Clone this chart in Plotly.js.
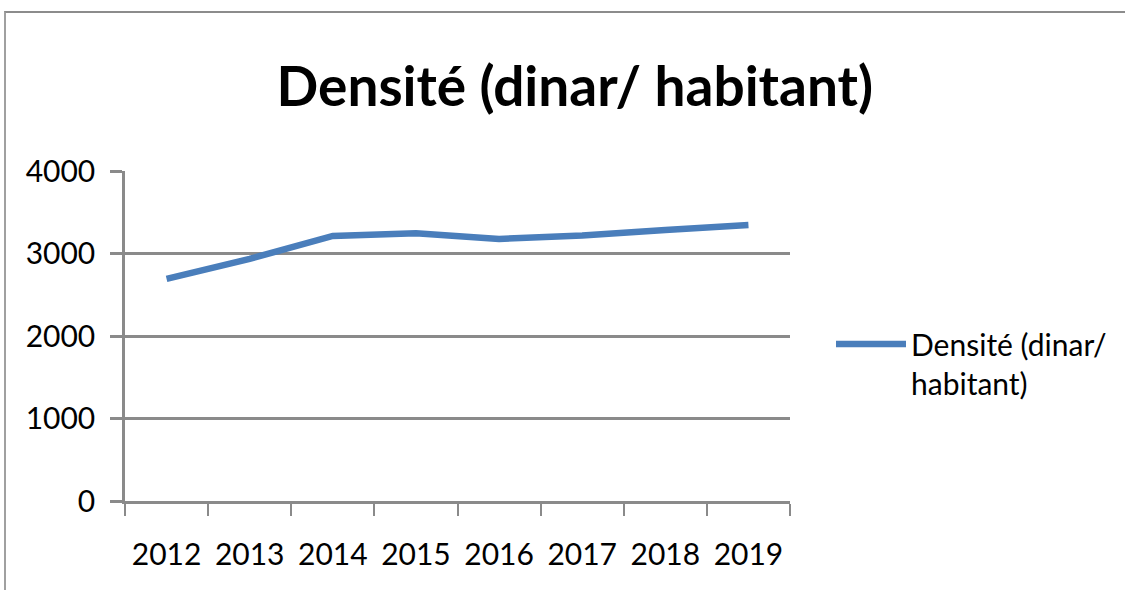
<!DOCTYPE html>
<html>
<head>
<meta charset="utf-8">
<script src="https://cdn.plot.ly/plotly-3.0.1.min.js"></script>
<style>
  html, body { margin: 0; padding: 0; background: #fff; }
  #wrap { position: relative; width: 1125px; height: 590px; overflow: hidden; }
  #chart { width: 1125px; height: 590px; }
  #frame { position: absolute; left: 4px; top: 11px; width: 1200px; height: 700px;
           border-top: 2px solid #8c8c8c; border-left: 2px solid #a0a0a0; pointer-events: none; }
</style>
</head>
<body>
<div id="wrap">
  <div id="chart"></div>
  <div id="frame"></div>
</div>
<script>
const years = ["2012", "2013", "2014", "2015", "2016", "2017", "2018", "2019"];
const densite = [2693, 2935, 3213, 3245, 3177, 3219, 3285, 3346];
const seriesName = "Densité (dinar/<br>habitant)";
const chartTitle = "Densité (dinar/ habitant)";
const yTicks = [0, 1000, 2000, 3000, 4000];

const FONT = 'Lato, "DejaVu Sans Condensed", sans-serif';

const trace = {
  type: 'scatter',
  mode: 'lines',
  x: years,
  y: densite,
  name: seriesName,
  line: { color: '#4a7ebb', width: 6.5 },
  hoverinfo: 'x+y'
};

const layout = {
  width: 1125,
  height: 590,
  paper_bgcolor: '#ffffff',
  plot_bgcolor: '#ffffff',
  margin: { l: 125, r: 335, t: 171, b: 89, pad: 0 },
  title: {
    text: chartTitle,
    font: { family: FONT, size: 55, color: '#000000', weight: 'bold' },
    xref: 'container', x: 0.511, xanchor: 'center',
    yref: 'container', y: 1 - 87 / 590, yanchor: 'middle'
  },
  font: { family: FONT, color: '#000000' },
  xaxis: {
    type: 'category',
    range: [-0.5, 7.5],
    tickson: 'boundaries',
    ticks: 'outside',
    ticklen: 12,
    tickwidth: 2,
    tickcolor: '#8a8a8a',
    showline: true,
    linecolor: '#8a8a8a',
    linewidth: 2.5,
    showgrid: false,
    zeroline: false,
    tickangle: 0,
    tickfont: { family: FONT, size: 30, color: '#000000' },
    ticklabelstandoff: 25,
    fixedrange: true
  },
  yaxis: {
    range: [0, 4000],
    tickmode: 'array',
    tickvals: yTicks,
    ticktext: yTicks.map(String),
    ticks: 'outside',
    ticklen: 12,
    tickwidth: 2.5,
    tickcolor: '#8a8a8a',
    showline: true,
    linecolor: '#8a8a8a',
    linewidth: 2.5,
    showgrid: true,
    gridcolor: '#8a8a8a',
    gridwidth: 2.5,
    zeroline: false,
    tickfont: { family: FONT, size: 30, color: '#000000' },
    ticklabelstandoff: 9,
    fixedrange: true
  },
  showlegend: true,
  legend: {
    x: 831 / 1125, xref: 'container', xanchor: 'left',
    y: 1 - 318 / 590, yref: 'container', yanchor: 'top',
    valign: 'top',
    font: { family: FONT, size: 30, color: '#000000' },
    bgcolor: 'rgba(0,0,0,0)',
    borderwidth: 0,
    itemwidth: 70
  }
};

Plotly.newPlot('chart', [trace], layout, { displayModeBar: false, staticPlot: false });
</script>
</body>
</html>
